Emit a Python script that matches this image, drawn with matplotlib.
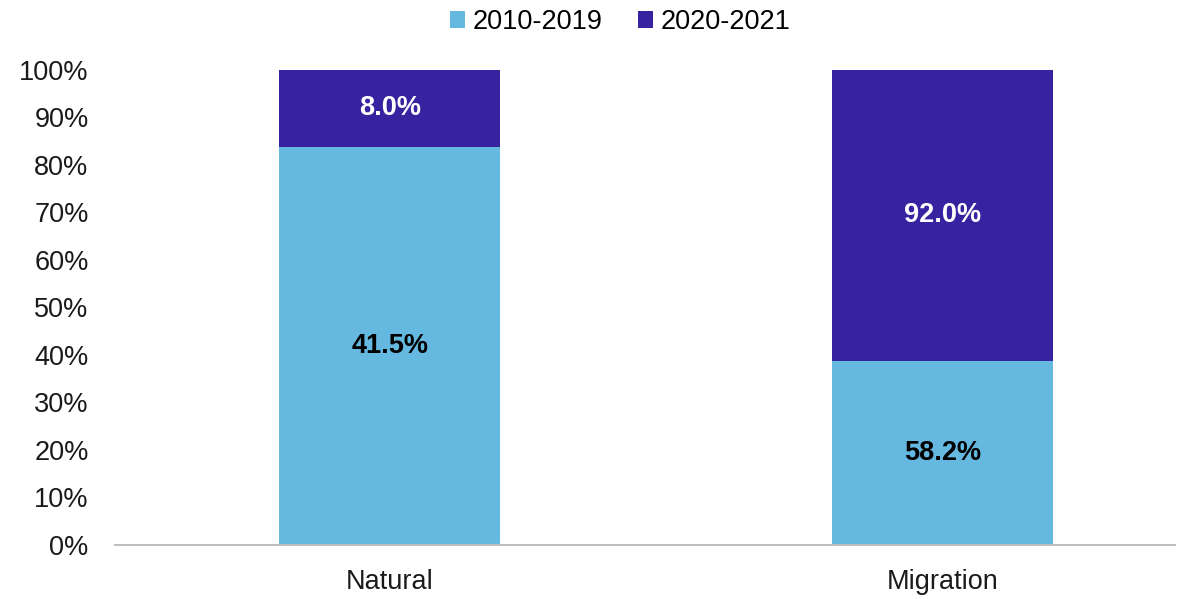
import matplotlib
matplotlib.use("Agg")
import matplotlib.pyplot as plt
import numpy as np

categories = ["Natural", "Migration"]
series_names = ["2010-2019", "2020-2021"]
vals_2010_2019 = [41.5, 58.2]
vals_2020_2021 = [8.0, 92.0]
yticks = [0, 10, 20, 30, 40, 50, 60, 70, 80, 90, 100]

plt.rcParams['font.family'] = ['Liberation Sans', 'DejaVu Sans']

c1 = "#65B8E0"
c2 = "#3723A0"
fs = 19.5

a = np.array(vals_2010_2019)
b = np.array(vals_2020_2021)
tot = a + b
pa = a / tot * 100
pb = b / tot * 100

fig = plt.figure(figsize=(11.88, 5.99), dpi=100)
ax = fig.add_axes([0.0968, 0.0902, 0.892, 0.7930])
x = np.arange(len(categories))
w = 0.40
bars1 = ax.bar(x, pa, w, color=c1, label=series_names[0], zorder=2)
bars2 = ax.bar(x, pb, w, bottom=pa, color=c2, label=series_names[1], zorder=2)

for i in range(len(categories)):
    ax.text(x[i], pa[i] / 2, f"{a[i]:.1f}%", ha='center', va='center',
            fontsize=fs, fontweight='bold', color='black')
    ax.text(x[i], pa[i] + pb[i] / 2, f"{b[i]:.1f}%", ha='center', va='center',
            fontsize=fs, fontweight='bold', color='white')

ax.set_xlim(-0.497, 1.42)
ax.set_ylim(0, 100)
ax.set_yticks(yticks)
ax.set_yticklabels([f"{t}%" for t in yticks], fontsize=fs, color='#1a1a1a')
ax.set_xticks(x)
ax.set_xticklabels(categories, fontsize=fs, color='#1a1a1a')
ax.tick_params(axis='y', length=0, pad=19)
ax.tick_params(axis='x', length=0, pad=17)
for s in ['top', 'right', 'left']:
    ax.spines[s].set_visible(False)
ax.spines['bottom'].set_color('#BFBFBF')
ax.spines['bottom'].set_linewidth(1.5)

leg = fig.legend(handles=[bars1, bars2], labels=series_names, loc='center',
                 bbox_to_anchor=(0.522, 0.963), ncol=2, frameon=False,
                 fontsize=fs, handlelength=0.55, handleheight=0.55,
                 handletextpad=0.3, columnspacing=1.3)

fig.savefig("out.png", dpi=100)
